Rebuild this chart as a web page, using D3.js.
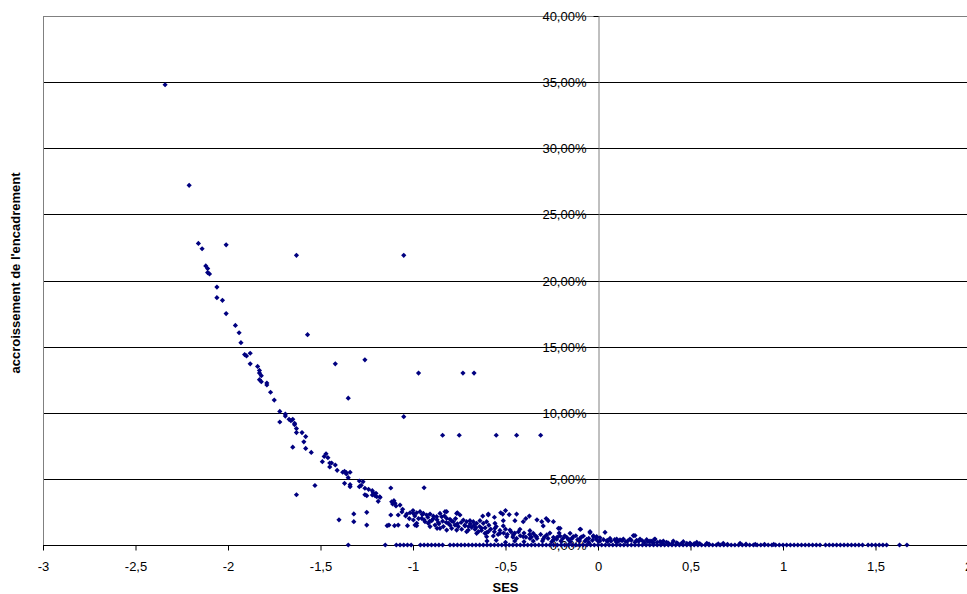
<!DOCTYPE html>
<html>
<head>
<meta charset="utf-8">
<script src="https://cdnjs.cloudflare.com/ajax/libs/d3/7.8.5/d3.min.js"></script>
<style>
  body { margin: 0; background: #fff; }
  svg { display: block; font-family: "Liberation Sans", Arial, sans-serif; }
</style>
</head>
<body>
<div id="chart"></div>
<script>
// SES vs accroissement de l'encadrement (%)
var xTicks = [-3, -2.5, -2, -1.5, -1, -0.5, 0, 0.5, 1, 1.5, 2];
var yTicks = [0, 5, 10, 15, 20, 25, 30, 35, 40];

var curvePoints = [
  [-2.34, 34.8], [-2.21, 27.2], [-2.16, 22.8], [-2.14, 22.4], [-2.12, 21.1], [-2.11, 20.9],
  [-2.11, 20.6], [-2.10, 20.5], [-2.06, 19.5], [-2.06, 18.7], [-2.03, 18.5], [-2.01, 17.5],
  [-1.96, 16.6], [-1.94, 16.05], [-1.93, 15.3], [-1.91, 14.4], [-1.90, 14.3], [-1.88, 14.5],
  [-1.88, 13.7], [-1.84, 13.5], [-1.83, 13.2], [-1.83, 13.0], [-1.82, 12.8], [-1.83, 12.5],
  [-1.82, 12.35], [-1.79, 12.25], [-1.79, 12.1], [-1.77, 11.55], [-1.75, 10.96], [-1.72, 10.1],
  [-1.69, 9.9], [-1.69, 9.75], [-1.67, 9.5], [-1.65, 9.5], [-1.72, 9.3], [-1.66, 9.4],
  [-1.64, 9.2], [-1.64, 9.1], [-1.63, 8.8], [-1.63, 8.5], [-1.65, 7.4], [-1.60, 8.5],
  [-1.58, 8.2], [-1.59, 7.8], [-1.58, 7.3], [-1.55, 7.0], [-1.47, 6.9], [-1.48, 6.7],
  [-1.46, 6.6], [-1.49, 6.3], [-1.45, 6.2], [-1.44, 6.2], [-1.45, 5.9], [-1.42, 6.05],
  [-1.41, 5.65], [-1.38, 5.5], [-1.37, 5.57], [-1.36, 5.47], [-1.34, 5.5], [-1.36, 5.37],
  [-1.35, 5.09], [-1.37, 4.66], [-1.34, 4.56], [-1.34, 4.41], [-1.29, 4.84], [-1.27, 4.79],
  [-1.28, 4.51], [-1.29, 4.41], [-1.26, 4.29], [-1.24, 4.21], [-1.22, 4.11], [-1.215, 3.95],
  [-1.20, 3.91], [-1.22, 3.78], [-1.26, 3.8], [-1.25, 3.73], [-1.205, 3.73], [-1.196, 3.65],
  [-1.178, 3.6], [-1.188, 3.3], [-1.18, 3.65]
];

var outlierPoints = [
  [-2.01, 22.7], [-1.63, 21.9], [-1.05, 21.9], [-1.57, 15.9], [-1.42, 13.7], [-1.26, 14.0],
  [-0.97, 13.0], [-0.73, 13.0], [-0.67, 13.0], [-1.35, 11.1], [-1.05, 9.7], [-0.84, 8.3],
  [-0.75, 8.3], [-0.55, 8.3], [-0.44, 8.3], [-0.31, 8.3], [-0.94, 4.33], [-1.12, 4.31],
  [-1.63, 3.8], [-1.53, 4.5], [-1.40, 1.9], [-1.32, 2.35], [-1.32, 1.76], [-1.25, 2.47],
  [-1.25, 1.51], [-1.14, 1.46], [-1.13, 1.51], [-1.10, 1.46], [-1.08, 1.51], [-1.03, 1.46],
  [-0.98, 1.46], [-0.87, 1.26]
];

var clusterPoints = [
  [-1.115, 3.27], [-1.103, 3.35], [-1.11, 3.1], [-1.097, 3.15], [-1.092, 2.95], [-1.07, 3.02],
  [-1.12, 2.27], [-1.08, 2.27], [-1.056, 2.7], [-1.034, 2.34], [-1.016, 2.44], [-0.998, 2.39],
  [-0.98, 2.44], [-0.962, 2.52], [-0.944, 2.39], [-0.926, 2.27], [-0.908, 2.34], [-0.89, 2.19],
  [-0.872, 2.14], [-0.854, 2.39], [-0.845, 2.14], [-0.827, 2.52], [-0.818, 2.02], [-0.8, 1.94],
  [-0.782, 1.76], [-0.764, 2.39], [-0.746, 2.27], [-0.728, 1.89], [-0.71, 1.76], [-0.692, 1.84],
  [-0.674, 1.76], [-0.656, 1.64], [-0.638, 1.84], [-0.62, 1.64], [-0.602, 1.76], [-0.593, 2.27],
  [-0.998, 1.89], [-0.98, 1.64], [-0.953, 2.02], [-0.935, 1.76], [-0.917, 1.64], [-0.899, 1.84],
  [-0.881, 1.51], [-0.863, 1.69], [-0.836, 1.39], [-0.809, 1.64], [-0.791, 1.26], [-0.773, 1.51],
  [-0.755, 1.39], [-0.737, 1.19], [-0.719, 1.44], [-0.701, 1.13], [-0.683, 1.34], [-0.665, 1.19],
  [-0.647, 1.01], [-0.629, 1.26], [-0.611, 0.88], [-0.593, 1.01], [-0.908, 1.39], [-0.854, 1.26],
  [-0.818, 1.13], [-0.764, 1.13], [-0.71, 1.01], [-0.656, 0.88], [-0.602, 0.63], [-0.989, 1.51],
  [-0.818, 2.52], [-0.76, 2.44], [-0.593, 2.34], [-0.623, 2.19], [-0.526, 2.44], [-0.515, 2.34],
  [-0.44, 2.34], [-0.371, 2.19], [-0.557, 1.64], [-0.512, 1.84], [-0.449, 1.84], [-0.404, 1.76],
  [-0.304, 1.76], [-0.269, 1.84], [-0.241, 1.76], [-0.296, 1.44], [-0.214, 1.26], [-0.205, 1.26],
  [-0.097, 1.19], [-0.094, 1.19], [-0.043, 0.93], [-0.151, 0.88], [-0.512, 1.44], [-0.557, 1.26],
  [-0.476, 1.13], [-0.422, 1.19], [-0.368, 1.08], [-0.35, 0.88], [-0.277, 0.76], [-0.205, 0.68],
  [-0.134, 0.63], [-0.079, 0.68], [-0.458, 0.76], [-0.53, 0.88], [-0.602, 0.93], [-0.404, 0.63],
  [-0.332, 0.63], [-0.241, 0.58], [-0.169, 0.58], [-0.097, 0.5], [-0.025, 0.63], [-0.494, 0.63],
  [-0.566, 0.68], [-0.44, 0.5], [-0.368, 0.5], [-0.296, 0.45], [-0.223, 0.45], [-0.151, 0.43],
  [-0.061, 0.43],
  [-1.06, 2.5], [-1.04, 2.2], [-1.02, 2.0], [-1.0, 2.6], [-0.99, 2.2], [-0.97, 2.0],
  [-0.95, 2.3], [-0.94, 1.9], [-0.92, 2.1], [-0.91, 1.8], [-0.89, 2.0], [-0.87, 1.9],
  [-0.86, 1.6], [-0.84, 1.8], [-0.83, 2.2], [-0.82, 1.7], [-0.80, 1.5], [-0.79, 1.8],
  [-0.77, 2.0], [-0.76, 1.6], [-0.74, 1.7], [-0.72, 1.5], [-0.70, 1.4], [-0.69, 1.6],
  [-0.67, 1.5], [-0.66, 1.3], [-0.64, 1.4], [-0.63, 1.1], [-0.61, 1.3], [-0.59, 1.5],
  [-0.58, 1.2], [-0.56, 1.0], [-0.55, 1.4], [-0.54, 0.8], [-0.53, 1.1], [-0.51, 0.9],
  [-0.50, 1.2], [-0.49, 0.8], [-0.47, 1.0], [-0.46, 0.6], [-0.45, 0.9], [-0.43, 1.0],
  [-0.42, 0.7], [-0.40, 0.9], [-0.39, 0.6], [-0.37, 0.8], [-0.36, 0.6], [-0.34, 0.7],
  [-0.33, 0.5], [-0.31, 0.8], [-0.29, 0.6], [-0.27, 0.5], [-0.26, 0.9], [-0.24, 0.4],
  [-0.22, 0.6], [-0.21, 0.9], [-0.19, 0.5], [-0.18, 0.7], [-0.16, 0.4], [-0.14, 0.5],
  [-0.12, 0.7], [-0.11, 0.4], [-0.09, 0.6], [-0.07, 0.3], [-0.05, 0.5], [-0.03, 0.35],
  [-0.56, 2.1], [-0.5, 2.6], [-0.48, 2.3], [-0.39, 2.0], [-0.33, 1.9], [-0.28, 2.0]
];

var nearZeroPoints = [
  [-0.043, 1.01], [0.038, 0.96], [0.191, 0.71], [0.2, 0.71], [-0.007, 0.63], [0.065, 0.5],
  [0.101, 0.45], [0.137, 0.45], [0.173, 0.45], [0.227, 0.45], [0.263, 0.4], [0.308, 0.45],
  [0.353, 0.3], [0.407, 0.3], [0.461, 0.25], [0.534, 0.2], [-0.025, 0.7], [0.011, 0.55],
  [0.119, 0.38], [0.209, 0.36], [0.281, 0.3], [0.335, 0.25], [0.371, 0.2], [0.425, 0.17],
  [0.497, 0.15], [0.588, 0.13], [0.677, 0.13], [0.768, 0.13], [-0.3, 0.3], [-0.25, 0.25],
  [-0.2, 0.3], [-0.15, 0.25], [-0.1, 0.3], [-0.05, 0.2], [0.0, 0.3], [0.05, 0.25],
  [0.1, 0.2], [0.15, 0.25], [0.2, 0.2], [0.25, 0.2], [0.3, 0.15], [0.35, 0.12],
  [0.4, 0.1], [-0.45, 0.3], [-0.4, 0.25], [-0.35, 0.3], [-0.55, 0.35], [-0.6, 0.3],
  [-0.5, 0.2], [0.45, 0.1], [0.5, 0.08], [0.55, 0.1], [0.6, 0.06], [0.65, 0.08],
  [0.7, 0.05], [0.8, 0.06], [0.85, 0.05], [0.9, 0.05], [0.95, 0.04], [0.305, 0.43],
  [-0.01, 0.45], [0.01, 0.3], [0.03, 0.4], [0.05, 0.35], [0.07, 0.3], [0.09, 0.4],
  [0.11, 0.28], [0.13, 0.33], [0.16, 0.3], [0.18, 0.35], [0.22, 0.28], [0.24, 0.32],
  [0.27, 0.25], [0.29, 0.28], [0.32, 0.2], [0.34, 0.22], [0.38, 0.15], [0.43, 0.13],
  [0.48, 0.12], [0.52, 0.1]
];

var zeroSes = [
  -1.35, -1.15, -1.09, -1.07, -1.05, -1.03, -1.01, -0.96, -0.94, -0.92, -0.90, -0.88, -0.86,
  -0.84, -0.80, -0.78, -0.76, -0.74, -0.72, -0.70, -0.68, -0.66, -0.64, -0.62, -0.60, -0.58,
  -0.56, -0.54, -0.52, -0.50, -0.48, -0.46, -0.44, -0.42, -0.40, -0.38, -0.36, -0.34, -0.32,
  -0.30, -0.28, -0.26, -0.24, -0.22, -0.20, -0.18, -0.16, -0.14, -0.12, -0.10, -0.08, -0.06,
  -0.04, -0.02, 0.00, 0.02, 0.04, 0.06, 0.08, 0.10, 0.12, 0.14, 0.16, 0.18, 0.20, 0.22,
  0.24, 0.26, 0.28, 0.30, 0.32, 0.34, 0.36, 0.38, 0.40, 0.42, 0.44, 0.46, 0.48, 0.50,
  0.52, 0.54, 0.56, 0.58, 0.60, 0.62, 0.64, 0.66, 0.68, 0.70, 0.72, 0.74, 0.76, 0.78,
  0.80, 0.82, 0.84, 0.86, 0.88, 0.90, 0.92, 0.94, 0.96, 0.98, 1.00, 1.02, 1.04, 1.06,
  1.08, 1.10, 1.12, 1.14, 1.16, 1.18, 1.20, 1.23, 1.25, 1.27, 1.29, 1.31, 1.33, 1.35,
  1.37, 1.39, 1.41, 1.43, 1.46, 1.48, 1.50, 1.52, 1.54, 1.56, 1.63, 1.67
];

var width = 967, height = 594;
var locale = d3.formatLocale({ decimal: ",", thousands: " ", grouping: [3], currency: ["", "€"] });
var fmtX = function (d) { return locale.format("")(d).replace("−", "-"); };
var fmtY = function (d) { return locale.format(".2f")(d) + "%"; };

var x = d3.scaleLinear().domain([-3, 2]).range([43, 968]);
var y = d3.scaleLinear().domain([0, 40]).range([545, 16]);

var svg = d3.select("#chart")
            .append("svg")
            .attr("width", width)
            .attr("height", height);

// horizontal gridlines
svg.append("g")
   .selectAll("line")
   .data(yTicks.filter(function (d) { return d > 0 && d < 40; }))
   .enter()
   .append("line")
     .attr("x1", x(-3)).attr("x2", width)
     .attr("y1", function (d) { return Math.round(y(d)) + 0.5; })
     .attr("y2", function (d) { return Math.round(y(d)) + 0.5; })
     .attr("stroke", "#000")
     .attr("stroke-width", 1);

// plot frame top + left
svg.append("line")
   .attr("x1", x(-3)).attr("x2", width)
   .attr("y1", Math.round(y(40)) + 0.5).attr("y2", Math.round(y(40)) + 0.5)
   .attr("stroke", "#808080");
svg.append("line")
   .attr("x1", Math.round(x(-3)) + 0.5).attr("x2", Math.round(x(-3)) + 0.5)
   .attr("y1", y(40)).attr("y2", y(0))
   .attr("stroke", "#808080");

// x axis
var xAxis = svg.append("g")
   .attr("transform", "translate(0," + (Math.round(y(0)) + 0.5) + ")")
   .call(d3.axisBottom(x).tickValues(xTicks).tickFormat(fmtX).tickSize(5).tickSizeOuter(0).tickPadding(11));
xAxis.select(".domain").attr("stroke", "#000").attr("d", "M" + x(-3) + ",0H" + width);
xAxis.selectAll(".tick line").attr("stroke", "#000");
xAxis.selectAll("text").style("font-size", "13px").style("fill", "#000");

// y axis at x = 0
var yAxis = svg.append("g")
   .attr("transform", "translate(" + (Math.round(x(0)) + 0.5) + ",0)")
   .call(d3.axisLeft(y).tickValues(yTicks).tickFormat(fmtY).tickSize(5).tickSizeOuter(0).tickPadding(7));
yAxis.select(".domain").attr("stroke", "#808080");
yAxis.selectAll(".tick line").attr("stroke", "#000");
yAxis.selectAll("text").style("font-size", "13px").style("fill", "#000");
yAxis.selectAll(".tick").attr("transform", function (d) { return "translate(0," + (Math.round(y(d)) + 0.5) + ")"; });

// markers
var all = curvePoints.concat(outlierPoints, clusterPoints, nearZeroPoints,
                             zeroSes.map(function (s) { return [s, 0]; }));
var r = 2.6;
svg.append("g")
   .selectAll("path")
   .data(all)
   .enter()
   .append("path")
     .attr("transform", function (d) { return "translate(" + x(d[0]) + "," + y(d[1]) + ")"; })
     .attr("d", "M0," + (-r) + "L" + r + ",0L0," + r + "L" + (-r) + ",0Z")
     .attr("fill", "#000080");

// axis titles
svg.append("text")
   .attr("x", (x(-3) + x(2)) / 2)
   .attr("y", 592)
   .attr("text-anchor", "middle")
   .style("font-size", "13px")
   .style("font-weight", "bold")
   .text("SES");

svg.append("text")
   .attr("transform", "translate(20,273) rotate(-90)")
   .attr("text-anchor", "middle")
   .style("font-size", "13px")
   .style("font-weight", "bold")
   .text("accroissement de l'encadrement");
</script>
</body>
</html>
